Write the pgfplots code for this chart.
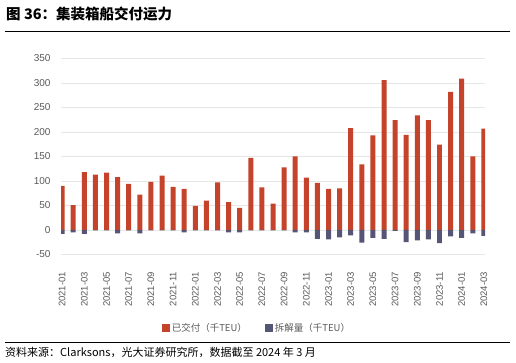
\documentclass[border=0pt]{standalone}
\usepackage{pgfplots}
\pgfplotsset{compat=1.18}
\usepackage{pgfplotstable}
\usepackage{fontspec}
\setmainfont{Liberation Sans}
\newfontfamily\cjk{Noto Sans CJK SC}
\definecolor{redbar}{HTML}{C5432A}
\definecolor{bluebar}{HTML}{555578}
\definecolor{gridc}{HTML}{E6E6E6}
\definecolor{tickc}{HTML}{595959}

\pgfplotstableread{
x del scr
0 90 -8
1 51 -5
2 118 -8
3 113 -1
4 117 -1
5 108 -7
6 94 -1
7 72 -7
8 98 -1
9 111 -1
10 88 -1
11 84 -5
12 49 -1
13 60 -1
14 97 -1
15 57 -5
16 45 -5
17 147 -1
18 87 -1
19 54 -1
20 128 -1
21 150 -5
22 107 -5
23 96 -18
24 84 -19
25 85 -15
26 208 -11
27 134 -26
28 193 -16
29 306 -18
30 224 -2
31 194 -25
32 234 -21
33 224 -19
34 174 -27
35 282 -13
36 309 -16
37 150 -7
38 207 -12
}\data

\begin{document}
\begin{tikzpicture}[x=1pt,y=1pt]
\useasboundingbox (0,0) rectangle (516,363);
\node[anchor=west,inner sep=0pt,font=\cjk\bfseries\fontsize{14.5}{16}\selectfont] at (6,349) {图 36：集装箱船交付运力};
\draw[line width=0.8pt] (5,331.3) -- (510,331.3);
\begin{axis}[
  at={(61pt,108.5pt)}, anchor=south west, scale only axis,
  width=424pt, height=196pt,
  xmin=-0.1, xmax=38.1, ymin=-50, ymax=350,
  ytick={-50,0,50,100,150,200,250,300,350},
  xtick={0,2,...,38},
  xticklabels={2021-01,2021-03,2021-05,2021-07,2021-09,2021-11,2022-01,2022-03,2022-05,2022-07,2022-09,2022-11,2023-01,2023-03,2023-05,2023-07,2023-09,2023-11,2024-01,2024-03},
  axis line style={draw=none},
  major tick length=0pt,
  ymajorgrids, grid style={gridc, line width=0.9pt},
  /pgf/number format/assume math mode=true,
  yticklabel style={font=\fontsize{10}{12}\selectfont, text=tickc, xshift=-7pt},
  xticklabel style={font=\fontsize{9.5}{11}\selectfont, text=tickc, rotate=90, anchor=east},
  xticklabel shift=14pt,
  ybar, bar width=0.45, bar shift=0pt,
  legend columns=2,
  legend style={at={(0.462,-0.375)}, anchor=center, draw=none, fill=none,
    font=\cjk\fontsize{9.5}{11}\selectfont, text=tickc,
    /tikz/every even column/.append style={column sep=16pt},
    inner sep=0pt, /tikz/column sep=0pt},
]
\addplot[fill=redbar, draw=none, legend image code/.code={\fill[redbar] (0pt,-4pt) rectangle (8pt,4pt);}] table[x=x,y=del]{\data};
\addplot[fill=bluebar, draw=none, legend image code/.code={\fill[bluebar] (0pt,-4pt) rectangle (8pt,4pt);}] table[x=x,y=scr]{\data};
\legend{已交付（千TEU）,拆解量（千TEU）}
\end{axis}
\draw[line width=0.6pt] (5,20.3) -- (510,20.3);
\node[anchor=west,inner sep=0pt,font=\cjk\fontsize{11}{13}\selectfont] at (5,10.5) {资料来源：Clarksons，光大证券研究所，数据截至 2024 年 3 月};
\end{tikzpicture}
\end{document}
